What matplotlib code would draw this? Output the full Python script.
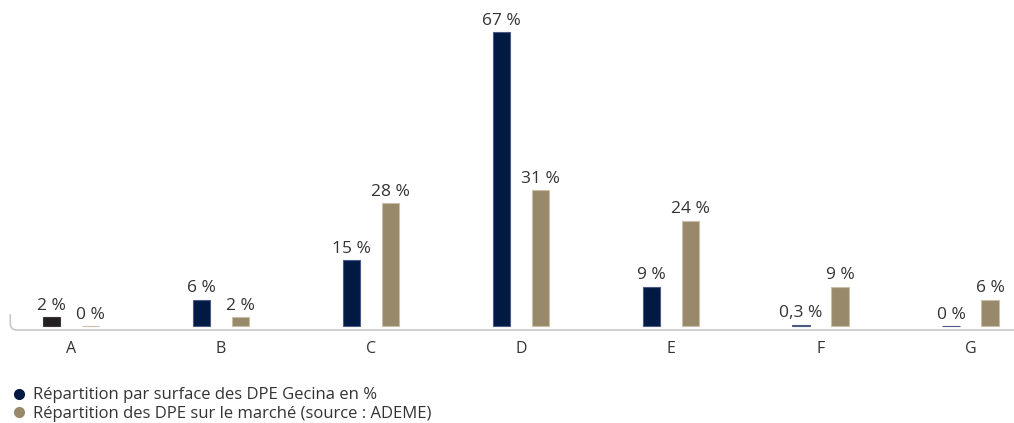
import matplotlib.pyplot as plt
from matplotlib.path import Path
from matplotlib.patches import PathPatch
from matplotlib.lines import Line2D
import numpy as np

plt.rcParams['font.family'] = ['Open Sans', 'DejaVu Sans']

# Données
classes = ['A', 'B', 'C', 'D', 'E', 'F', 'G']
gecina = [2, 6, 15, 67, 9, 0.3, 0]
ademe = [0, 2, 28, 31, 24, 9, 6]
gecina_labels = ['2 %', '6 %', '15 %', '67 %', '9 %', '0,3 %', '0 %']
ademe_labels = ['0 %', '2 %', '28 %', '31 %', '24 %', '9 %', '6 %']
legend_labels = ['Répartition par surface des DPE Gecina en %',
                 'Répartition des DPE sur le marché (source : ADEME)']

navy = '#001a43'
taupe = '#97896a'
gecina_colors = ['#231f20'] + [navy] * 6
txt = '#333333'

fig = plt.figure(figsize=(10.14, 4.23), dpi=100)
ax = fig.add_axes([10 / 1014, 93 / 423, 1004 / 1014, 311 / 423])

x = np.arange(len(classes))
off = 0.13
w = 0.115
ax.bar(x - off, gecina, w, color=gecina_colors, edgecolor=['#3a3536'] + ['#4a5a85'] * 6, linewidth=0.8)
ax.bar(x + off, ademe, w, color=taupe, edgecolor='#c9bfa6', linewidth=0.8)

for i in range(len(classes)):
    ax.text(x[i] - off, gecina[i] + 0.8, gecina_labels[i], ha='center', va='bottom',
            fontsize=12.5, color=txt)
    ax.text(x[i] + off, ademe[i] + 0.8, ademe_labels[i], ha='center', va='bottom',
            fontsize=12.5, color=txt)

ax.set_xlim(-0.407, 6.29)
ax.set_ylim(-0.9, 70)
for s in ax.spines.values():
    s.set_visible(False)
ax.set_yticks([])
ax.set_xticks(x)
ax.set_xticklabels(classes, fontsize=11.5, color=txt)
ax.tick_params(axis='x', length=0, pad=8)

# ligne de base avec coin arrondi
x0, x1 = -0.405, 6.29
y0 = -0.9
rx, ry = 0.045, 1.5
verts = [(x0, y0 + 3.6), (x0, y0 + ry), (x0, y0), (x0 + rx, y0), (x1, y0)]
codes = [Path.MOVETO, Path.LINETO, Path.CURVE3, Path.CURVE3, Path.LINETO]
ax.add_patch(PathPatch(Path(verts, codes), fill=False, edgecolor='#c8c8c8',
                       linewidth=1.2, clip_on=False))

handles = [Line2D([], [], marker='o', linestyle='', color=navy, markersize=7),
           Line2D([], [], marker='o', linestyle='', color=taupe, markersize=7)]
fig.legend(handles, legend_labels, loc='upper left', bbox_to_anchor=(0.004, 0.1),
           frameon=False, fontsize=12, handletextpad=0.35, labelspacing=0.15,
           borderaxespad=0, handlelength=1.0, labelcolor=txt)

fig.savefig('out.png', dpi=100)
